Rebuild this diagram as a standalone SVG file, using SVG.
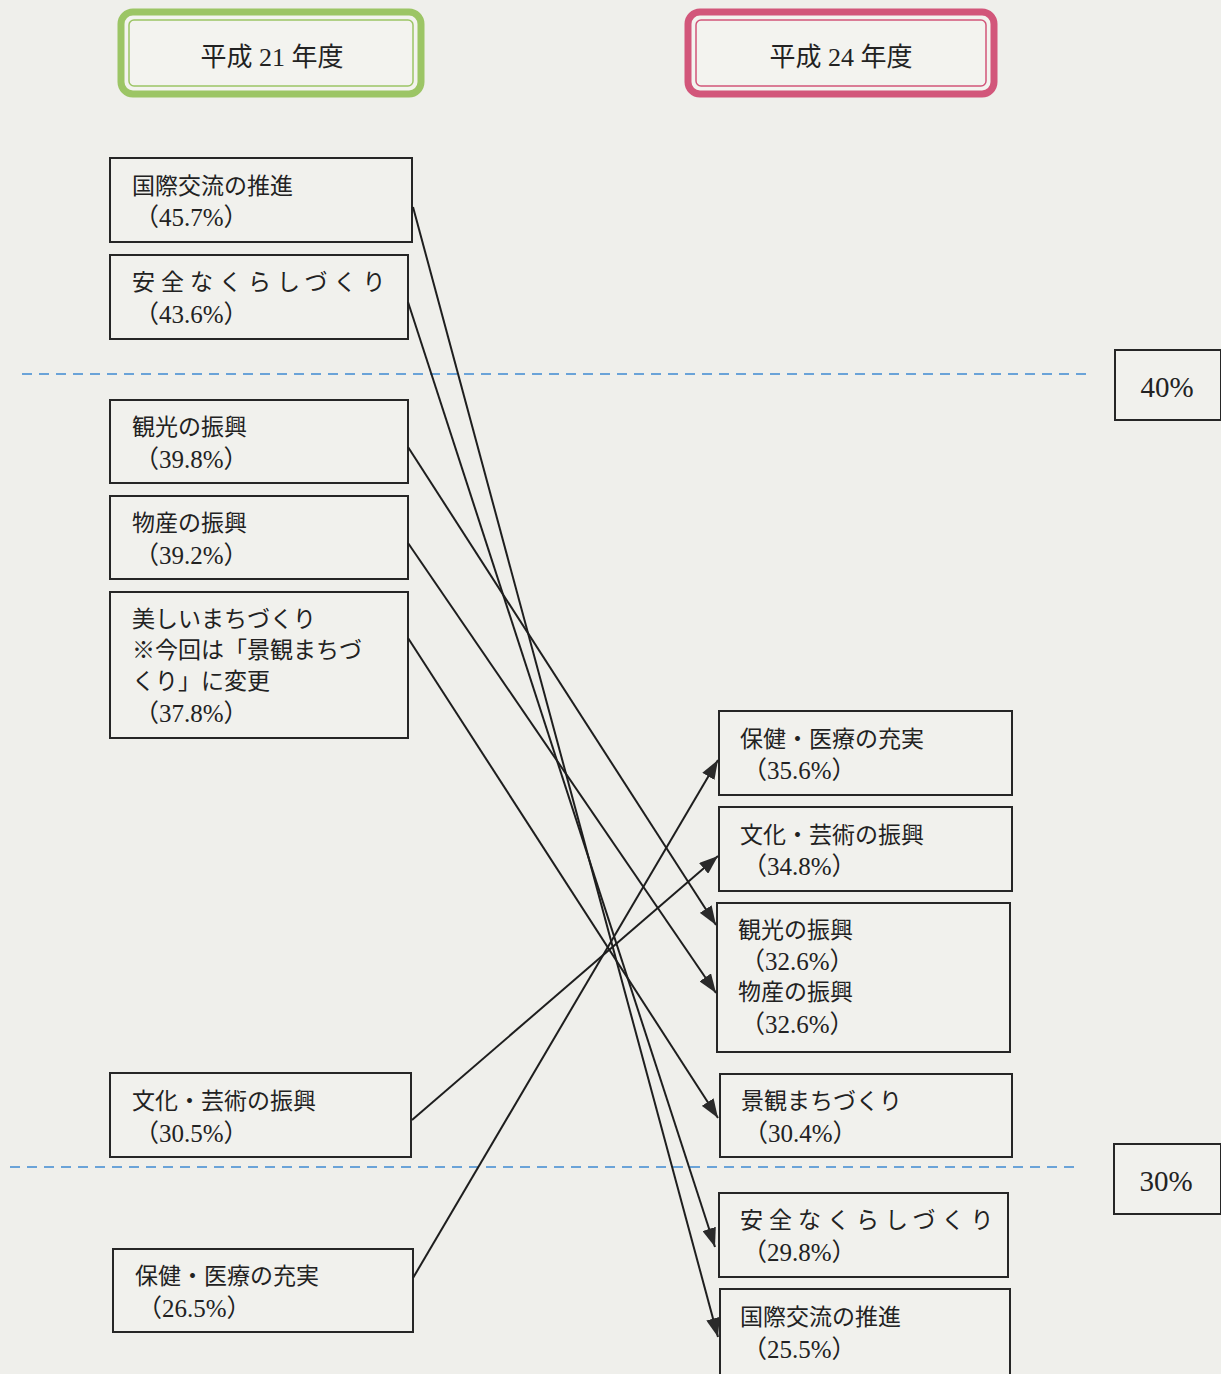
<svg xmlns="http://www.w3.org/2000/svg" width="1221" height="1374" viewBox="0 0 1221 1374">
<defs>
<style>
.bg{fill:#efefeb}
.box{fill:#f1f1ed;stroke:#262626;stroke-width:2}
.t{font-family:"Liberation Serif","Noto Sans CJK JP",serif;font-size:23px;fill:#222}
.n{font-family:"Liberation Serif","Noto Sans CJK JP",serif;font-size:25px;fill:#222}
.h{font-family:"Liberation Serif","Noto Sans CJK JP",serif;font-size:26px;fill:#222}
.p{font-family:"Liberation Serif","Noto Sans CJK JP",serif;font-size:29px;fill:#222;text-anchor:middle}
.sp{letter-spacing:6px}
.dash{stroke:#6aa3d8;stroke-width:2;stroke-dasharray:10 7;fill:none}
.con{stroke:#1e1e1e;stroke-width:2;fill:none;marker-end:url(#ah)}
</style>
<marker id="ah" markerUnits="userSpaceOnUse" markerWidth="19" markerHeight="14" refX="19" refY="7" orient="auto">
<path d="M0,0 L19,7 L0,14 Z" fill="#2a2a2a"/>
</marker>
</defs>
<rect class="bg" x="0" y="0" width="1221" height="1374"/>

<g id="header-h21">
<rect x="121" y="12" width="300" height="82" rx="12" fill="#f3f3ef" stroke="#9cc565" stroke-width="7"/>
<rect x="129" y="20" width="284" height="66" rx="5" fill="#f3f3ef" stroke="#9cc565" stroke-width="1.5"/>
<text class="h" x="272" y="66" text-anchor="middle">平成 21 年度</text>
</g>
<g id="header-h24">
<rect x="688" y="12" width="306" height="82" rx="12" fill="#f3f3ef" stroke="#d2567a" stroke-width="7"/>
<rect x="696" y="20" width="290" height="66" rx="5" fill="#f3f3ef" stroke="#d2567a" stroke-width="1.5"/>
<text class="h" x="841" y="66" text-anchor="middle">平成 24 年度</text>
</g>

<g id="guides">
<line class="dash" x1="22" y1="374" x2="1092" y2="374"/>
<line class="dash" x1="10" y1="1167" x2="1078" y2="1167"/>
</g>
<g id="scale-40">
<rect class="box" x="1115" y="350" width="106" height="70"/>
<text class="p" x="1167" y="397">40%</text>
</g>
<g id="scale-30">
<rect class="box" x="1114" y="1144" width="107" height="70"/>
<text class="p" x="1166" y="1191">30%</text>
</g>

<g id="l-kokusai">
<rect class="box" x="110" y="158" width="302" height="84"/>
<text class="t" x="132" y="194">国際交流の推進</text>
<text class="n" x="134" y="226">（45.7%）</text>
</g>
<g id="l-anzen">
<rect class="box" x="110" y="255" width="298" height="84"/>
<text class="t sp" x="132" y="290">安全なくらしづくり</text>
<text class="n" x="134" y="323">（43.6%）</text>
</g>
<g id="l-kanko">
<rect class="box" x="110" y="400" width="298" height="83"/>
<text class="t" x="132" y="435">観光の振興</text>
<text class="n" x="134" y="468">（39.8%）</text>
</g>
<g id="l-bussan">
<rect class="box" x="110" y="496" width="298" height="83"/>
<text class="t" x="132" y="531">物産の振興</text>
<text class="n" x="134" y="564">（39.2%）</text>
</g>
<g id="l-utsukushii">
<rect class="box" x="110" y="592" width="298" height="146"/>
<text class="t" x="132" y="627">美しいまちづくり</text>
<text class="t" x="132" y="658">※今回は「景観まちづ</text>
<text class="t" x="132" y="689">くり」に変更</text>
<text class="n" x="134" y="722">（37.8%）</text>
</g>
<g id="l-bunka">
<rect class="box" x="110" y="1073" width="301" height="84"/>
<text class="t" x="132" y="1109">文化・芸術の振興</text>
<text class="n" x="134" y="1142">（30.5%）</text>
</g>
<g id="l-hoken">
<rect class="box" x="113" y="1249" width="300" height="83"/>
<text class="t" x="135" y="1284">保健・医療の充実</text>
<text class="n" x="137" y="1317">（26.5%）</text>
</g>

<g id="r-hoken">
<rect class="box" x="719" y="711" width="293" height="84"/>
<text class="t" x="740" y="747">保健・医療の充実</text>
<text class="n" x="742" y="779">（35.6%）</text>
</g>
<g id="r-bunka">
<rect class="box" x="719" y="807" width="293" height="84"/>
<text class="t" x="740" y="843">文化・芸術の振興</text>
<text class="n" x="742" y="875">（34.8%）</text>
</g>
<g id="r-kanko-bussan">
<rect class="box" x="717" y="903" width="293" height="149"/>
<text class="t" x="738" y="938">観光の振興</text>
<text class="n" x="740" y="970">（32.6%）</text>
<text class="t" x="738" y="1000">物産の振興</text>
<text class="n" x="740" y="1033">（32.6%）</text>
</g>
<g id="r-keikan">
<rect class="box" x="720" y="1074" width="292" height="83"/>
<text class="t" x="741" y="1109">景観まちづくり</text>
<text class="n" x="743" y="1142">（30.4%）</text>
</g>
<g id="r-anzen">
<rect class="box" x="719" y="1193" width="289" height="84"/>
<text class="t sp" x="740" y="1228">安全なくらしづくり</text>
<text class="n" x="742" y="1261">（29.8%）</text>
</g>
<g id="r-kokusai">
<rect class="box" x="720" y="1289" width="290" height="90"/>
<text class="t" x="740" y="1325">国際交流の推進</text>
<text class="n" x="742" y="1358">（25.5%）</text>
</g>

<g id="connectors">
<line class="con" x1="413" y1="207" x2="718" y2="1337"/>
<line class="con" x1="408" y1="302" x2="715" y2="1247"/>
<line class="con" x1="408" y1="447" x2="716" y2="925"/>
<line class="con" x1="408" y1="543" x2="716" y2="993"/>
<line class="con" x1="408" y1="638" x2="718" y2="1118"/>
<line class="con" x1="412" y1="1120" x2="718" y2="856"/>
<line class="con" x1="413" y1="1278" x2="718" y2="760"/>
</g>
</svg>
